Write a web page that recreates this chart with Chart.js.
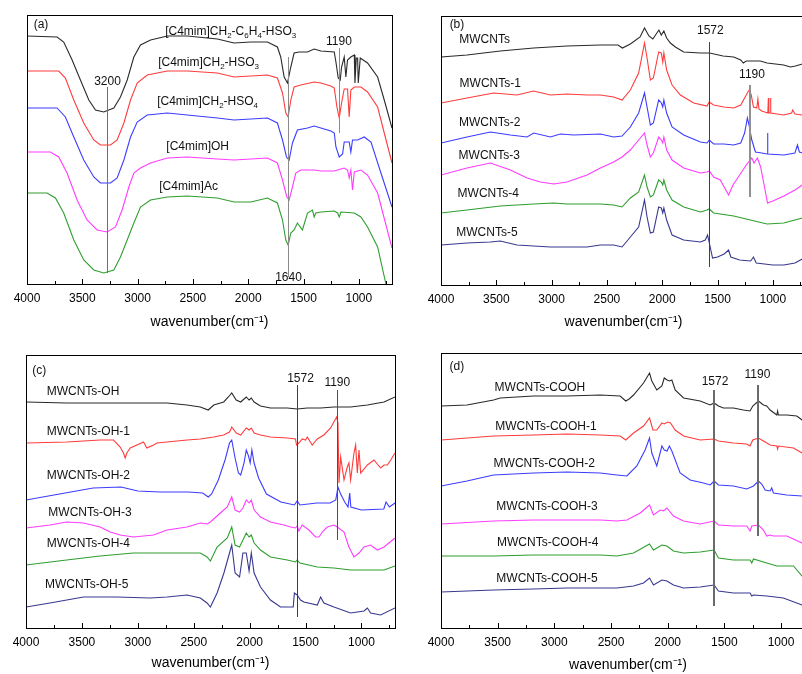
<!DOCTYPE html>
<html>
<head>
<meta charset="utf-8">
<script src="https://cdn.jsdelivr.net/npm/chart.js@4.4.0/dist/chart.umd.min.js"></script>
<style>
html, body { margin: 0; padding: 0; background: #fff; }
#wrap { position: relative; width: 802px; height: 674px; overflow: hidden; }
.panel { position: absolute; overflow: hidden; height: 337px; }
canvas { display: block; }
</style>
</head>
<body>
<div id="wrap">
  <div class="panel" style="left:0;top:0;width:400px"><canvas id="chartA" width="400" height="337"></canvas></div>
  <div class="panel" style="left:400px;top:0;width:402px"><canvas id="chartB" width="412" height="337"></canvas></div>
  <div class="panel" style="left:0;top:337px;width:400px"><canvas id="chartC" width="400" height="337"></canvas></div>
  <div class="panel" style="left:400px;top:337px;width:402px"><canvas id="chartD" width="416" height="337"></canvas></div>
</div>
<script>
// shared axis ticks (wavenumber, cm-1)
const majorTicks = [4000, 3500, 3000, 2500, 2000, 1500, 1000];
const minorTicks = [3750, 3250, 2750, 2250, 1750, 1250, 750];
const seriesColors = ['#2a2a2a', '#ff3c3c', '#3c3cff', '#ff3cff', '#2f9e2f', '#383890'];

// ---- panel (a): ionic liquids, [wavenumber, offset transmittance]
const aNames = ['[C4mim]CH_2-C_6H_4-HSO_3', '[C4mim]CH_2-HSO_3', '[C4mim]CH_2-HSO_4', '[C4mim]OH', '[C4mim]Ac'];
const aS1 = [[4000,248],[3728,247],[3668,242],[3592,224],[3517,204],[3441,184],[3381,174],[3306,172],[3215,176],[3155,187],[3094,204],[3034,227],[2974,239],[2883,244],[2732,248],[2551,248],[2279,245],[2128,241],[1977,242],[1826,242],[1736,237],[1706,227],[1675,207],[1645,201],[1615,217],[1585,231],[1540,232],[1464,232],[1404,235],[1343,233],[1222,232],[1207,222],[1186,206],[1168,204],[1156,217],[1132,227],[1117,207],[1102,224],[1072,227],[1041,229],[1035,201],[1023,226],[1011,226],[1005,201],[987,226],[921,221],[830,207],[770,184],[700,156]];
const aS2 = [[4000,213],[3713,213],[3653,206],[3577,184],[3487,161],[3396,144],[3336,139],[3245,139],[3185,144],[3124,161],[3064,184],[3004,201],[2913,209],[2732,213],[2551,213],[2279,211],[2128,207],[1977,208],[1826,209],[1736,206],[1690,191],[1660,171],[1639,167],[1615,184],[1585,197],[1525,199],[1404,202],[1343,201],[1253,198],[1222,196],[1198,177],[1177,166],[1156,181],[1132,195],[1102,195],[1087,167],[1072,194],[1041,197],[981,197],[921,192],[830,177],[770,151],[700,121]];
const aS3 = [[4000,176],[3728,176],[3653,167],[3577,147],[3487,124],[3396,107],[3336,101],[3245,101],[3185,106],[3124,124],[3064,147],[3004,162],[2913,169],[2732,171],[2551,169],[2279,166],[2128,164],[1977,165],[1826,166],[1736,161],[1690,144],[1654,127],[1630,124],[1600,141],[1555,154],[1464,156],[1404,158],[1343,156],[1253,153],[1222,151],[1207,137],[1177,127],[1147,130],[1132,142],[1087,142],[1072,132],[1057,144],[1011,144],[951,147],[890,142],[800,111],[700,77]];
const aS4 = [[4000,132],[3789,132],[3713,127],[3638,111],[3547,84],[3457,64],[3366,54],[3275,52],[3200,57],[3140,74],[3079,97],[3034,111],[2974,116],[2883,121],[2732,126],[2551,127],[2279,125],[2128,124],[1977,125],[1826,126],[1736,121],[1690,104],[1651,87],[1630,84],[1600,97],[1570,111],[1525,114],[1404,114],[1343,113],[1222,113],[1132,116],[1102,114],[1087,106],[1072,114],[1057,94],[1041,112],[981,114],[921,109],[830,91],[700,36]];
const aS5 = [[4000,91],[3819,91],[3743,86],[3668,71],[3577,44],[3487,24],[3396,14],[3306,11],[3215,14],[3155,27],[3094,44],[3034,61],[2974,77],[2883,84],[2732,87],[2551,88],[2279,86],[2128,82],[1977,82],[1826,86],[1736,81],[1690,64],[1660,44],[1639,39],[1615,51],[1585,54],[1555,61],[1510,54],[1464,71],[1419,74],[1404,67],[1389,71],[1343,72],[1222,73],[1192,71],[1177,67],[1162,72],[1041,71],[981,67],[921,57],[830,37],[755,0]];
const aMarks = [[3275,197,11],[1639,227,7],[1177,236,151]];
const aLabels = [['(a)',3940,259,'left'],[aNames[0],2158,252,'center'],[aNames[1],2358,221,'center'],[aNames[2],2367,182,'center'],[aNames[3],2457,137,'center'],[aNames[4],2539,97,'center'],['3200',3272,202,'center'],['1640',1636,6,'center'],['1190',1180,242,'center']];

// ---- panel (b): MWCNTs
const bS0 = [[4000,228],[3765,230],[3464,234],[3162,237],[2861,239],[2559,240],[2400,240],[2360,237],[2288,241],[2200,248],[2160,257],[2120,249],[2085,246],[2030,255],[2008,250],[1985,254],[1960,247],[1926,242],[1881,238],[1806,233],[1655,232],[1572,232],[1450,229],[1354,228],[1290,225],[1267,222],[1240,224],[1203,224],[1113,224],[1052,222],[902,220],[840,218],[796,219],[733,221],[700,221]];
const bS1 = [[4000,182],[3765,187],[3524,192],[3313,190],[3162,194],[3011,190],[2861,191],[2680,190],[2559,190],[2439,188],[2363,185],[2288,195],[2213,212],[2160,242],[2137,227],[2107,205],[2080,207],[2032,233],[2008,232],[1995,223],[1985,232],[1960,215],[1911,200],[1836,190],[1715,182],[1595,179],[1575,183],[1535,180],[1444,178],[1354,177],[1290,180],[1250,188],[1225,193],[1212,195],[1195,190],[1175,178],[1145,177],[1135,186],[1125,176],[1100,174],[1045,172],[1040,187],[1036,172],[1025,172],[1021,187],[1017,172],[900,170],[830,172],[820,175],[800,171],[733,170],[700,171]];
const bS2 = [[4000,142],[3765,148],[3554,153],[3373,150],[3222,148],[3162,152],[3011,148],[2921,151],[2800,150],[2559,151],[2439,148],[2363,149],[2288,158],[2213,172],[2160,192],[2137,178],[2107,160],[2080,162],[2032,185],[2008,182],[1995,178],[1985,185],[1960,172],[1911,158],[1806,150],[1655,143],[1595,142],[1575,145],[1535,141],[1444,141],[1354,140],[1290,142],[1255,152],[1230,167],[1215,160],[1190,145],[1157,133],[1100,132],[1052,131],[1048,152],[1044,131],[900,130],[800,132],[777,140],[760,133],[700,131]];
const bS3 = [[4000,110],[3765,117],[3554,122],[3373,115],[3222,107],[3102,103],[2981,101],[2861,103],[2680,110],[2559,117],[2439,123],[2363,128],[2288,135],[2213,145],[2160,152],[2137,140],[2107,128],[2080,132],[2032,148],[2008,145],[1995,142],[1985,148],[1960,135],[1911,125],[1806,117],[1655,112],[1595,113],[1575,114],[1535,108],[1475,105],[1440,98],[1400,90],[1360,100],[1300,110],[1240,120],[1190,127],[1170,122],[1140,127],[1110,118],[1070,95],[1048,82],[1000,84],[900,89],[800,95],[733,100],[700,102]];
const bS4 = [[4000,72],[3765,75],[3464,79],[3162,81],[2981,82],[2861,81],[2559,81],[2439,80],[2363,78],[2288,87],[2213,93],[2160,110],[2137,98],[2107,88],[2080,90],[2032,105],[2008,103],[1995,100],[1985,105],[1960,95],[1911,85],[1806,78],[1655,73],[1595,75],[1575,76],[1535,72],[1354,69],[1203,65],[1052,61],[902,62],[733,67],[700,68]];
const bS5 = [[4000,40],[3765,42],[3554,43],[3464,44],[3313,40],[3011,38],[2861,38],[2680,38],[2559,40],[2439,40],[2363,38],[2288,48],[2213,58],[2160,85],[2137,68],[2107,52],[2080,53],[2032,78],[2008,77],[1995,72],[1985,77],[1960,65],[1911,50],[1806,45],[1655,43],[1610,45],[1590,50],[1570,40],[1545,27],[1500,28],[1440,31],[1400,35],[1380,28],[1300,25],[1200,24],[1175,28],[1150,22],[1000,20],[900,20],[800,22],[733,26],[700,28]];
const bMarks = [[1580,243,18],[1203,200,88]];
const bLabels = [['(b)',3922,260,'left'],['MWCNTs',3835,245,'left'],['MWCNTs-1',3832,201,'left'],['MWCNTs-2',3837,162,'left'],['MWCNTs-3',3841,129,'left'],['MWCNTs-4',3850,91,'left'],['MWCNTs-5',3862,52,'left'],['1572',1565,254,'center'],['1190',1188,210,'center']];

// ---- panel (c): MWCNTs-OH
const cS0 = [[4000,226],[3636,225],[3337,225],[3038,225],[2739,225],[2560,223],[2441,221],[2370,218],[2321,223],[2232,226],[2190,231],[2160,235],[2120,228],[2080,226],[2030,231],[2005,228],[1985,230],[1960,226],[1903,222],[1814,220],[1664,220],[1575,219],[1485,220],[1365,220],[1246,221],[1097,221],[947,223],[798,226],[700,231]];
const cS1 = [[4000,128],[4000,185],[3636,186],[3337,188],[3217,188],[3158,181],[3128,175],[3113,170],[3098,175],[3068,180],[3008,183],[2949,186],[2919,180],[2859,183],[2829,185],[2739,186],[2560,188],[2441,189],[2321,191],[2232,193],[2180,196],[2160,201],[2120,195],[2080,193],[2030,200],[2005,198],[1985,200],[1960,195],[1903,193],[1814,191],[1664,190],[1590,189],[1581,183],[1560,185],[1530,189],[1500,188],[1485,191],[1440,183],[1395,189],[1336,193],[1276,200],[1222,211],[1210,205],[1201,145],[1186,171],[1156,148],[1127,161],[1112,165],[1097,148],[1067,175],[1052,183],[1037,155],[1022,178],[1007,155],[947,163],[888,168],[828,160],[798,163],[768,163],[738,168],[700,175]];
const cS2 = [[4000,128],[3750,133],[3400,140],[3150,141],[3000,137],[2800,136],[2550,136],[2420,135],[2370,131],[2340,134],[2280,148],[2220,168],[2180,185],[2160,188],[2130,170],[2100,155],[2080,153],[2050,165],[2030,178],[2010,172],[1995,165],[1980,178],[1960,165],[1920,150],[1850,134],[1720,126],[1600,123],[1575,127],[1550,123],[1400,125],[1280,125],[1230,128],[1210,141],[1190,135],[1150,126],[1120,121],[1105,135],[1095,121],[1000,118],[800,119],[780,126],[750,121],[700,125]];
const cS3 = [[4000,63],[4000,100],[3785,103],[3636,106],[3486,105],[3337,101],[3247,96],[3158,93],[3038,91],[2949,92],[2859,93],[2739,98],[2560,101],[2441,105],[2381,104],[2351,106],[2262,115],[2200,121],[2160,131],[2130,118],[2090,116],[2060,120],[2030,128],[2005,125],[1985,128],[1960,118],[1903,111],[1814,106],[1694,103],[1634,101],[1590,100],[1575,102],[1560,97],[1530,103],[1470,98],[1410,91],[1380,91],[1350,96],[1306,101],[1246,103],[1216,101],[1156,96],[1112,81],[1067,71],[1022,75],[977,81],[918,83],[858,78],[798,81],[700,90]];
const cS4 = [[4000,63],[3636,68],[3337,72],[3038,75],[2739,75],[2560,75],[2441,75],[2381,71],[2351,67],[2291,81],[2200,90],[2160,101],[2130,83],[2090,81],[2060,88],[2030,95],[2005,91],[1985,93],[1960,85],[1903,78],[1814,71],[1664,68],[1590,66],[1575,68],[1550,65],[1395,61],[1246,60],[1097,58],[947,58],[798,58],[700,62]];
const cS5 = [[4000,21],[3785,25],[3486,31],[3187,31],[2889,30],[2739,31],[2560,33],[2441,30],[2381,25],[2351,21],[2291,35],[2230,55],[2190,71],[2160,83],[2130,55],[2090,51],[2060,75],[2030,75],[2005,57],[1985,75],[1960,55],[1903,41],[1814,28],[1724,21],[1610,21],[1600,35],[1575,33],[1545,28],[1515,26],[1395,23],[1365,31],[1336,25],[1246,21],[1097,15],[977,17],[947,20],[918,15],[828,13],[700,20]];
const cMarks = [[1575,243,11],[1216,238,88]];
const cLabels = [['(c)',3943,257,'left'],['MWCNTs-OH',3815,236,'left'],['MWCNTs-OH-1',3815,196,'left'],['MWCNTs-OH-2',3815,152,'left'],['MWCNTs-OH-3',3800,115,'left'],['MWCNTs-OH-4',3815,84,'left'],['MWCNTs-OH-5',3830,43,'left'],['1572',1545,249,'center'],['1190',1216,245,'center']];

// ---- panel (d): MWCNTs-COOH
const dS0 = [[4000,222],[3771,223],[3536,228],[3477,230],[3183,232],[2889,232],[2595,233],[2419,232],[2370,227],[2340,229],[2301,233],[2213,245],[2160,255],[2140,247],[2096,238],[2051,242],[2030,250],[2005,248],[1985,247],[1963,248],[1934,238],[1860,230],[1713,227],[1625,223],[1590,225],[1552,222],[1508,220],[1420,220],[1331,218],[1273,217],[1249,222],[1199,227],[1155,223],[1126,222],[1096,218],[1037,213],[1030,217],[1023,213],[949,213],[861,212],[814,208],[700,200]];
const dS1 = [[4000,142],[4000,188],[3536,192],[3183,193],[2889,194],[2595,193],[2419,192],[2370,188],[2301,195],[2213,202],[2160,210],[2130,198],[2096,198],[2051,205],[2030,204],[2000,206],[1975,205],[1934,198],[1860,192],[1713,188],[1590,189],[1552,187],[1420,185],[1304,184],[1273,182],[1249,188],[1199,190],[1155,187],[1096,183],[1037,182],[1030,179],[1023,182],[890,180],[814,175],[700,170]];
const dS2 = [[4000,104],[4000,142],[3771,147],[3536,153],[3183,155],[2889,156],[2595,155],[2448,153],[2360,152],[2272,162],[2199,178],[2160,190],[2140,175],[2096,162],[2051,182],[2030,178],[2005,177],[1985,182],[1963,177],[1890,155],[1801,148],[1684,145],[1625,143],[1590,147],[1552,143],[1420,142],[1302,139],[1243,142],[1199,147],[1170,144],[1140,138],[1096,137],[1082,140],[1067,135],[949,133],[814,132],[700,128]];
const dS3 = [[4000,72],[4000,104],[3536,107],[3183,108],[2889,108],[2595,108],[2448,107],[2360,108],[2242,115],[2160,123],[2125,113],[2066,118],[2037,117],[2007,120],[1949,112],[1860,107],[1713,104],[1590,107],[1552,103],[1420,102],[1302,102],[1273,97],[1258,102],[1199,103],[1155,98],[1126,92],[1096,93],[1067,92],[949,92],[814,85],[700,80]];
const dS4 = [[4000,36],[4000,72],[3536,72],[3183,73],[2889,73],[2595,73],[2448,72],[2301,75],[2160,84],[2125,78],[2051,83],[2007,82],[1949,77],[1860,75],[1713,76],[1590,78],[1552,70],[1420,68],[1273,68],[1258,65],[1243,69],[1126,65],[1037,62],[979,62],[890,62],[814,52],[700,45]];
const dS5 = [[4000,0],[4000,36],[3536,38],[3183,39],[2889,40],[2595,40],[2448,40],[2301,42],[2213,45],[2160,50],[2125,43],[2051,48],[2007,47],[1949,43],[1860,40],[1713,41],[1590,43],[1552,37],[1420,35],[1273,35],[1258,32],[1243,33],[1126,32],[979,30],[814,23],[700,18]];
const dMarks = [[1590,238,22],[1199,243,92]];
const dLabels = [['(d)',3924,261,'left'],['MWCNTs-COOH',3527,240,'left'],['MWCNTs-COOH-1',3521,201,'left'],['MWCNTs-COOH-2',3536,164,'left'],['MWCNTs-COOH-3',3512,121,'left'],['MWCNTs-COOH-4',3506,85,'left'],['MWCNTs-COOH-5',3512,49,'left'],['1572',1582,246,'center'],['1190',1208,253,'center']];

const FONT = "'Liberation Sans', Arial, sans-serif";
Chart.defaults.font.family = FONT;
Chart.defaults.color = '#000';

// text with _n subscripts
function richText(ctx, str, x, y, size, align) {
    const parts = str.split(/(_\d)/).filter(Boolean);
    const subSize = Math.round(size * 0.7);
    let total = 0;
    parts.forEach(p => {
        ctx.font = (p[0] === '_' ? subSize : size) + 'px ' + FONT;
        total += ctx.measureText(p[0] === '_' ? p.slice(1) : p).width;
    });
    let cx = align === 'center' ? x - total / 2 : x;
    ctx.textAlign = 'left';
    ctx.textBaseline = 'middle';
    parts.forEach(p => {
        const sub = p[0] === '_';
        const t = sub ? p.slice(1) : p;
        ctx.font = (sub ? subSize : size) + 'px ' + FONT;
        ctx.fillText(t, cx, sub ? y + size * 0.3 : y);
        cx += ctx.measureText(t).width;
    });
}

function decor(p) {
    return {
        id: 'decor',
        afterDatasetsDraw(chart) {
            const { ctx, chartArea: a, scales: { x, y } } = chart;
            ctx.save();
            ctx.strokeStyle = '#000';
            ctx.lineWidth = 1;
            ctx.strokeRect(a.left + 0.5, a.top + 0.5, a.right - a.left, a.bottom - a.top);
            // inward ticks on the bottom axis
            ctx.beginPath();
            majorTicks.forEach(v => {
                const px = Math.round(x.getPixelForValue(v)) + 0.5;
                ctx.moveTo(px, a.bottom); ctx.lineTo(px, a.bottom - 5);
            });
            minorTicks.forEach(v => {
                const px = Math.round(x.getPixelForValue(v)) + 0.5;
                ctx.moveTo(px, a.bottom); ctx.lineTo(px, a.bottom - 3);
            });
            ctx.stroke();
            // reference lines
            p.marks.forEach((m, i) => {
                const st = p.markStyle[i];
                ctx.strokeStyle = st[0];
                ctx.lineWidth = st[1];
                const px = Math.round(x.getPixelForValue(m[0])) + (st[1] % 2 ? 0.5 : 0);
                ctx.beginPath();
                ctx.moveTo(px, y.getPixelForValue(m[1]));
                ctx.lineTo(px, y.getPixelForValue(m[2]));
                ctx.stroke();
            });
            ctx.fillStyle = '#111';
            p.labels.forEach(l => {
                const size = /^[\d(]/.test(l[0]) ? 12 : p.labelSize;
                richText(ctx, l[0], x.getPixelForValue(l[1]), y.getPixelForValue(l[2]), size, l[3]);
            });
            ctx.restore();
        }
    };
}

function makePanel(id, p) {
    const canvas = document.getElementById(id);
    const W = canvas.width, H = canvas.height;
    const axisH = p.titleY + 9.4 - p.area.b;
    return new Chart(canvas, {
        type: 'line',
        data: {
            datasets: p.series.map((s, i) => ({
                data: s.map(d => ({ x: d[0], y: d[1] })),
                borderColor: seriesColors[i],
                borderWidth: 1.1,
                pointRadius: 0,
                tension: 0,
                fill: false
            }))
        },
        options: {
            responsive: false,
            animation: false,
            events: [],
            layout: {
                padding: { left: p.area.l, right: W - p.area.r, top: p.area.t, bottom: H - p.area.b - axisH }
            },
            plugins: { legend: { display: false }, tooltip: { enabled: false } },
            scales: {
                x: {
                    type: 'linear',
                    reverse: true,
                    min: 700,
                    max: 4000,
                    afterBuildTicks: s => { s.ticks = majorTicks.map(v => ({ value: v })); },
                    afterFit: s => { s.height = axisH; },
                    grid: { display: false, drawTicks: false },
                    border: { display: false },
                    ticks: { font: { size: 12 }, color: '#000', padding: 7, maxRotation: 0, autoSkip: false,
                             callback: v => String(v) },
                    title: { display: true, text: 'wavenumber(cm\u207B\u00B9)', font: { size: 14 }, color: '#000', padding: { top: 0, bottom: 1 } }
                },
                y: { display: false, min: 0, max: p.area.b - p.area.t }
            }
        },
        plugins: [decor(p)]
    });
}

makePanel('chartA', { series: [aS1, aS2, aS3, aS4, aS5], marks: aMarks, labels: aLabels, labelSize: 12,
    markStyle: [['#707070', 1], ['#8a8a8a', 1], ['#8a8a8a', 1]],
    area: { l: 27, r: 392, t: 15, b: 284 }, titleY: 322 });
makePanel('chartB', { series: [bS0, bS1, bS2, bS3, bS4, bS5], marks: bMarks, labels: bLabels, labelSize: 12,
    markStyle: [['#404040', 1], ['#909090', 2]],
    area: { l: 41, r: 406, t: 16, b: 285 }, titleY: 322 });
makePanel('chartC', { series: [cS0, cS1, cS2, cS3, cS4, cS5], marks: cMarks, labels: cLabels, labelSize: 12,
    markStyle: [['#404040', 1], ['#505050', 1]],
    area: { l: 26, r: 395, t: 18, b: 291 }, titleY: 326 });
makePanel('chartD', { series: [dS0, dS1, dS2, dS3, dS4, dS5], marks: dMarks, labels: dLabels, labelSize: 12,
    markStyle: [['#6a6a6a', 2], ['#6a6a6a', 2]],
    area: { l: 41, r: 415, t: 16, b: 291 }, titleY: 328 });
</script>
</body>
</html>
